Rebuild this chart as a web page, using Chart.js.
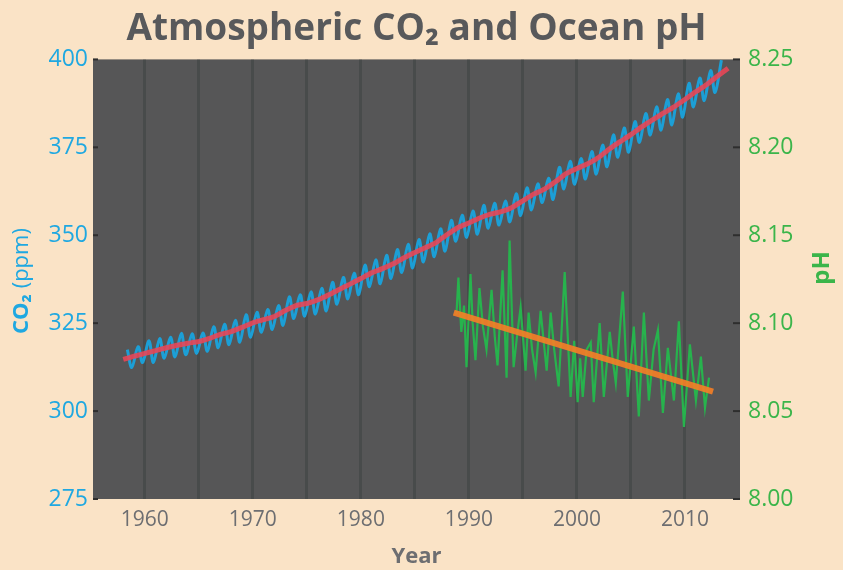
<!DOCTYPE html>
<html><head><meta charset="utf-8">
<script src="https://cdn.jsdelivr.net/npm/chart.js@4/dist/chart.umd.min.js"></script>
<style>
html,body{margin:0;padding:0;background:#fae3c6;}
#wrap{width:843px;height:570px;position:relative;}
</style></head><body>
<div id="wrap"><canvas id="c" width="843" height="570"></canvas></div>
<script>
// ---- data ----
const seasonYears = [1958,1959,1960,1961,1962,1963,1964,1965,1966,1967,1968,1969,1970,1971,1972,1973,1974,1975,1976,1977,1978,1979,1980,1981,1982,1983,1984,1985,1986,1987,1988,1989,1990,1991,1992,1993,1994,1995,1996,1997,1998,1999,2000,2001,2002,2003,2004,2005,2006,2007,2008,2009,2010,2011,2012,2013];
const co2Peaks = [317.5,318.3,320.0,320.6,321.0,322.1,322.0,322.2,324.0,324.7,325.8,327.4,328.1,328.9,330.0,332.5,333.1,333.9,334.9,336.6,338.0,339.2,341.5,343.0,344.3,345.9,347.4,348.8,350.4,351.8,354.2,355.7,356.9,358.5,359.1,359.7,361.8,363.5,364.6,366.2,369.3,371.0,371.8,373.8,375.6,378.5,380.5,382.3,384.6,386.5,388.6,390.2,393.2,394.7,396.8,399.8];
const co2Troughs = [312.4,313.8,313.8,315.0,315.4,316.0,316.4,317.0,318.0,318.9,319.6,321.0,322.4,323.2,324.4,326.3,327.0,327.6,328.5,330.4,331.9,333.1,335.4,336.2,337.7,339.4,340.7,342.4,343.9,345.5,348.3,349.4,350.3,352.0,352.9,353.8,355.6,357.2,359.3,360.2,363.2,364.5,366.0,367.4,369.5,372.2,373.6,376.4,378.5,379.9,381.4,383.6,386.5,388.3,390.6];
const trendYears = [1958,1959,1960,1961,1962,1963,1964,1965,1966,1967,1968,1969,1970,1971,1972,1973,1974,1975,1976,1977,1978,1979,1980,1981,1982,1983,1984,1985,1986,1987,1988,1989,1990,1991,1992,1993,1994,1995,1996,1997,1998,1999,2000,2001,2002,2003,2004,2005,2006,2007,2008,2009,2010,2011,2012,2013,2014];
const co2Trend = [314.7,315.6,316.4,317.2,318.0,318.7,319.3,319.8,320.7,321.8,322.6,323.8,325.1,326.0,326.9,328.6,330.0,330.6,331.6,333.0,334.6,336.1,337.7,339.3,340.5,341.9,343.6,345.1,346.5,348.0,350.2,352.2,353.5,354.9,356.0,356.7,357.9,359.8,361.7,363.1,365.2,367.5,369.0,370.3,372.1,374.5,376.6,378.6,380.8,382.8,384.7,386.5,388.6,390.8,392.8,395.2,397.5];
const phYears = [1988.85,1989.03,1989.3,1989.55,1989.78,1990.15,1990.35,1990.61,1990.98,1991.3,1991.63,1992.1,1992.4,1992.65,1993.12,1993.49,1993.77,1994.14,1994.5,1994.79,1995.25,1995.53,1995.85,1996.18,1996.64,1997.2,1997.57,1997.9,1998.31,1998.87,1999.42,1999.75,2000.07,2000.3,2000.54,2000.9,2001.28,2001.56,2002.11,2002.49,2003.04,2003.3,2003.6,2004.25,2004.71,2005.27,2005.73,2006.2,2006.66,2007.1,2007.5,2007.96,2008.42,2008.98,2009.44,2009.91,2010.46,2011.02,2011.48,2011.86,2012.23];
const phValues = [8.105,8.126,8.095,8.110,8.075,8.128,8.100,8.079,8.120,8.098,8.085,8.119,8.092,8.076,8.130,8.069,8.147,8.075,8.095,8.109,8.073,8.106,8.085,8.072,8.107,8.073,8.106,8.085,8.064,8.129,8.058,8.090,8.055,8.080,8.058,8.085,8.089,8.055,8.100,8.058,8.095,8.080,8.066,8.118,8.058,8.098,8.047,8.106,8.056,8.085,8.096,8.049,8.086,8.056,8.101,8.041,8.088,8.056,8.081,8.052,8.069];
const phTrendYears = [1988.6, 2012.6];
const phTrendValues = [8.106, 8.061];
const PEAK_FRACTION = 0.38;   // May maximum
const TROUGH_FRACTION = 0.79; // October minimum

// ---- build series ----
const co2Seasonal = [];
seasonYears.forEach((y, i) => {
  co2Seasonal.push({x: y + PEAK_FRACTION, y: co2Peaks[i]});
  if (i < co2Troughs.length) co2Seasonal.push({x: y + TROUGH_FRACTION, y: co2Troughs[i]});
});
const co2TrendPts = trendYears.map((y, i) => ({x: y, y: co2Trend[i]}));
const phPts = phYears.map((y, i) => ({x: y, y: phValues[i]}));
const phTrendPts = phTrendYears.map((y, i) => ({x: y, y: phTrendValues[i]}));

const BLUE = '#1fa8e1', GREEN = '#3bb54a', GRAY = '#6d6e71';

const decor = {
  id: 'decor',
  beforeDraw(chart) {
    const {ctx, chartArea: a} = chart;
    ctx.save();
    ctx.fillStyle = '#fae3c6';
    ctx.fillRect(0, 0, chart.width, chart.height);
    ctx.fillStyle = '#565657';
    ctx.fillRect(a.left, a.top, a.right - a.left, a.bottom - a.top);
    ctx.restore();
  },
  afterDraw(chart) {
    const {ctx, chartArea: a, scales} = chart;
    ctx.save();
    ctx.strokeStyle = '#2e2e2e';
    ctx.lineWidth = 2;
    scales.y.ticks.forEach(t => {
      const py = scales.y.getPixelForValue(t.value);
      ctx.beginPath(); ctx.moveTo(a.left, py); ctx.lineTo(a.left + 5, py); ctx.stroke();
    });
    scales.y1.ticks.forEach(t => {
      const py = scales.y1.getPixelForValue(t.value);
      ctx.beginPath(); ctx.moveTo(a.right - 7, py); ctx.lineTo(a.right, py); ctx.stroke();
    });
    ctx.translate(22, 281);
    ctx.rotate(-Math.PI / 2);
    ctx.fillStyle = BLUE;
    ctx.textBaseline = 'middle';
    ctx.textAlign = 'left';
    const bold = 'bold 22px "Open Sans"', reg = '22px "Open Sans"';
    ctx.font = bold; const w1 = ctx.measureText('CO₂').width;
    ctx.font = reg; const w2 = ctx.measureText(' (ppm)').width;
    const x0 = -(w1 + w2) / 2;
    ctx.font = bold; ctx.fillText('CO₂', x0, 0);
    ctx.font = reg; ctx.fillText(' (ppm)', x0 + w1, 0);
    ctx.restore();
    ctx.save();
    ctx.translate(822, 268);
    ctx.rotate(-Math.PI / 2);
    ctx.fillStyle = GREEN;
    ctx.textBaseline = 'middle';
    ctx.textAlign = 'center';
    ctx.font = 'bold 24px "Open Sans"';
    ctx.fillText('pH', 0, 0);
    ctx.restore();
  }
};

new Chart(document.getElementById('c'), {
  type: 'line',
  data: {
    datasets: [
      {label: 'pH trend', data: phTrendPts, yAxisID: 'y1', borderColor: 'rgba(246,128,38,0.9)', borderWidth: 6, pointRadius: 0, tension: 0},
      {label: 'CO₂ trend', data: co2TrendPts, yAxisID: 'y', borderColor: 'rgba(236,70,86,0.88)', borderWidth: 5, pointRadius: 0, tension: 0.2},
      {label: 'Ocean pH', data: phPts, yAxisID: 'y1', borderColor: '#27b34d', borderWidth: 2.2, pointRadius: 0, tension: 0},
      {label: 'Atmospheric CO₂', data: co2Seasonal, yAxisID: 'y', borderColor: '#1c9fd6', borderWidth: 3, pointRadius: 0, tension: 0.35}
    ]
  },
  options: {
    responsive: false,
    animation: false,
    devicePixelRatio: 1,
    layout: {padding: 0},
    plugins: {
      legend: {display: false},
      tooltip: {enabled: false},
      title: {
        display: true,
        text: 'Atmospheric CO₂ and Ocean pH',
        color: '#58595b',
        font: {family: 'Open Sans', weight: 'bold', size: 37, lineHeight: 1.2},
        padding: {top: 7, bottom: 8},
        fullSize: false
      }
    },
    scales: {
      x: {
        type: 'linear',
        min: 1955.2, max: 2015.1,
        ticks: {
          stepSize: 5, includeBounds: false, autoSkip: false, maxRotation: 0,
          color: GRAY, font: {family: 'Open Sans', size: 21}, padding: 8,
          callback: v => (Math.round(v) % 10 === 0 ? String(Math.round(v)) : '')
        },
        grid: {
          drawTicks: false,
          lineWidth: 3,
          color: ctx => (ctx.tick && Math.round(ctx.tick.value) % 5 === 0 && ctx.tick.value < 2015) ? 'rgba(52,60,60,0.42)' : 'rgba(0,0,0,0)'
        },
        border: {display: false},
        title: {display: true, text: 'Year', color: GRAY, font: {family: 'Open Sans', weight: 'bold', size: 22}, padding: {top: 0, bottom: 0}},
        afterFit: s => { s.height = 71; }
      },
      y: {
        position: 'left',
        min: 275, max: 400,
        ticks: {stepSize: 25, color: BLUE, font: {family: 'Open Sans', size: 23}, padding: 5},
        grid: {drawOnChartArea: false, drawTicks: false},
        border: {display: false},
        afterFit: s => { s.width = 93; }
      },
      y1: {
        position: 'right',
        min: 8.0, max: 8.25,
        ticks: {stepSize: 0.05, color: GREEN, font: {family: 'Open Sans', size: 23}, padding: 8, callback: v => Number(v).toFixed(2)},
        grid: {drawOnChartArea: false, drawTicks: false},
        border: {display: false},
        afterFit: s => { s.width = 103; }
      }
    }
  },
  plugins: [decor]
});
</script>
</body></html>
